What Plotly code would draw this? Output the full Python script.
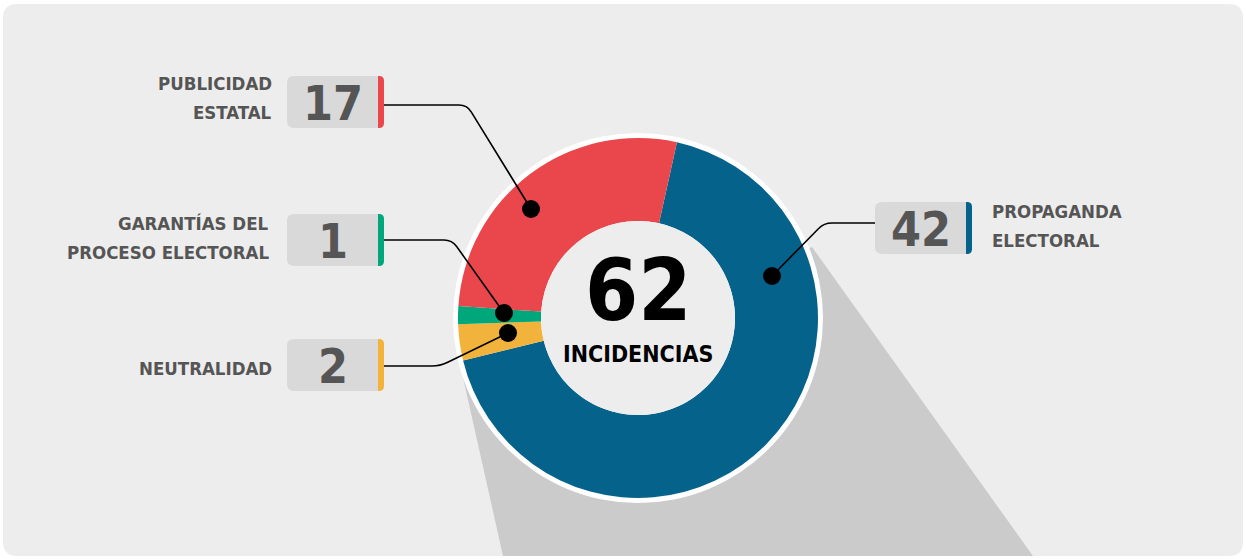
import math
import plotly.graph_objects as go

W, H = 1246, 559

# Data
categories = ["PROPAGANDA<br>ELECTORAL", "NEUTRALIDAD", "GARANTÍAS DEL<br>PROCESO ELECTORAL", "PUBLICIDAD<br>ESTATAL"]
values = [42, 2, 1, 17]
colors = ["#05628a", "#f2b33c", "#00a77b", "#e9474b"]
center_label = "INCIDENCIAS"

# Layout geometry (pixels)
CX, CY, R, HOLE_R, RING_R = 638, 318, 180, 97, 185
LINE_GAP = 29
label_layout = {
    "PROPAGANDA<br>ELECTORAL": dict(box=(875, 202, 972, 254), text=(990, 226), side="left",
                                   dot=(772, 276), lead=[(875, 223), (824, 223), (772, 276)]),
    "NEUTRALIDAD": dict(box=(287, 339, 384, 391), text=(274, 368), side="right",
                        dot=(508, 333), lead=[(384, 366), (440, 366), (508, 333)]),
    "GARANTÍAS DEL<br>PROCESO ELECTORAL": dict(box=(287, 214, 384, 266), text=(271, 238), side="right",
                                             dot=(504, 313), lead=[(384, 240), (452, 240), (504, 313)]),
    "PUBLICIDAD<br>ESTATAL": dict(box=(287, 76, 384, 128), text=(274, 98), side="right",
                                 dot=(531, 209), lead=[(384, 105), (467, 105), (531, 209)]),
}

FONT = "DejaVu Sans Condensed"
TXT = "#555555"


def px(x):
    return x / W


def py(y):
    return 1 - y / H


def P(x, y):
    return f"{px(x):.5f},{py(y):.5f}"


def rounded_rect(x0, y0, x1, y1, r):
    return (f"M {P(x0 + r, y0)} L {P(x1 - r, y0)} Q {P(x1, y0)} {P(x1, y0 + r)} "
            f"L {P(x1, y1 - r)} Q {P(x1, y1)} {P(x1 - r, y1)} L {P(x0 + r, y1)} "
            f"Q {P(x0, y1)} {P(x0, y1 - r)} L {P(x0, y0 + r)} Q {P(x0, y0)} {P(x0 + r, y0)} Z")


def right_strip(x0, y0, x1, y1, r):
    return (f"M {P(x0, y0)} L {P(x1 - r, y0)} Q {P(x1, y0)} {P(x1, y0 + r)} "
            f"L {P(x1, y1 - r)} Q {P(x1, y1)} {P(x1 - r, y1)} L {P(x0, y1)} Z")


def leader(pts, r=8):
    (ax, ay), (bx, by), (cx, cy) = pts
    # soften the bend between the horizontal run and the diagonal
    dx1 = 1 if bx > ax else -1
    L2 = math.hypot(cx - bx, cy - by)
    ux, uy = (cx - bx) / L2, (cy - by) / L2
    p1 = (bx - dx1 * r, by)
    p2 = (bx + ux * r, by + uy * r)
    return f"M {P(ax, ay)} L {P(*p1)} Q {P(bx, by)} {P(*p2)} L {P(cx, cy)}"


def circle(x, y, r, fill, layer="above"):
    return dict(type="circle", xref="paper", yref="paper",
                x0=px(x - r), x1=px(x + r), y0=py(y + r), y1=py(y - r),
                fillcolor=fill, line=dict(width=0), layer=layer)


shapes = []
# card background
shapes.append(dict(type="path", xref="paper", yref="paper", path=rounded_rect(3, 4, 1243, 556, 14),
                   fillcolor="#ededed", line=dict(width=0), layer="below"))
# shadow cast by the donut
shadow = f"M {P(462, 373)} L {P(503, 556)} L {P(1033, 556)} L {P(812, 247)} L {P(CX, CY)} Z"
shapes.append(dict(type="path", xref="paper", yref="paper", path=shadow,
                   fillcolor="#cbcbcb", line=dict(width=0), layer="below"))
# white ring around the donut
shapes.append(circle(CX, CY, RING_R, "white", layer="below"))
# centre disc
shapes.append(circle(CX, CY, HOLE_R, "#ededed"))

annotations = []
for cat, val, col in zip(categories, values, colors):
    g = label_layout[cat]
    x0, y0, x1, y1 = g["box"]
    shapes.append(dict(type="path", xref="paper", yref="paper", path=leader(g["lead"]),
                       line=dict(color="black", width=1.6), layer="above"))
    shapes.append(dict(type="path", xref="paper", yref="paper", path=rounded_rect(x0, y0, x1, y1, 7),
                       fillcolor="#d9d9d9", line=dict(width=0), layer="above"))
    shapes.append(dict(type="path", xref="paper", yref="paper", path=right_strip(x1 - 6, y0, x1, y1, 5),
                       fillcolor=col, line=dict(width=0), layer="above"))
    shapes.append(circle(g["dot"][0], g["dot"][1], 9, "black"))
    annotations.append(dict(xref="paper", yref="paper", x=px((x0 + x1 - 6) / 2), y=py((y0 + y1) / 2 + 1),
                            text=f"<b>{val}</b>", showarrow=False, xanchor="center", yanchor="middle",
                            font=dict(family=FONT, size=48, color=TXT)))
    tx, ty = g["text"]
    lines = cat.split("<br>")
    first = ty - LINE_GAP * (len(lines) - 1) / 2
    for i, line in enumerate(lines):
        annotations.append(dict(xref="paper", yref="paper", x=px(tx), y=py(first + i * LINE_GAP),
                                text=f"<b>{line}</b>", showarrow=False,
                                xanchor="left" if g["side"] == "left" else "right", yanchor="middle",
                                font=dict(family=FONT, size=18.5, color=TXT)))

# total and caption in the middle of the ring
annotations.append(dict(xref="paper", yref="paper", x=px(CX), y=py(290), text=f"<b>{sum(values)}</b>",
                        showarrow=False, xanchor="center", yanchor="middle",
                        font=dict(family=FONT, size=85, color="black")))
annotations.append(dict(xref="paper", yref="paper", x=px(CX), y=py(354), text=f"<b>{center_label}</b>",
                        showarrow=False, xanchor="center", yanchor="middle",
                        font=dict(family=FONT, size=23, color="black")))

fig = go.Figure(go.Pie(
    labels=categories, values=values, marker=dict(colors=colors, line=dict(width=0)),
    sort=False, direction="clockwise", rotation=12.5, hole=HOLE_R / R,
    textinfo="none", hoverinfo="label+value", showlegend=False,
    domain=dict(x=[px(CX - R), px(CX + R)], y=[py(CY + R), py(CY - R)]),
))

fig.update_layout(width=W, height=H, margin=dict(l=0, r=0, t=0, b=0),
                  paper_bgcolor="white", plot_bgcolor="white",
                  shapes=shapes, annotations=annotations)

fig.write_html("out.html")
